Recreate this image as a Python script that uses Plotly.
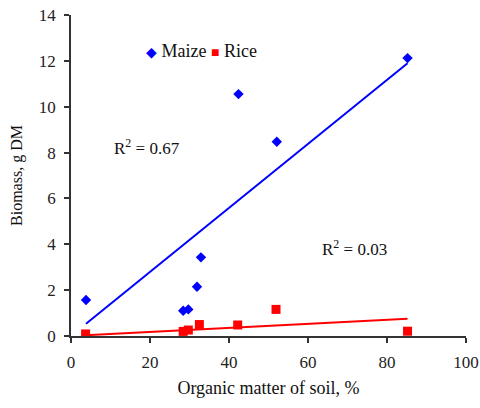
import numpy as np
import plotly.graph_objects as go

# Organic matter of soil (%) and biomass (g DM) per crop
maize_om = [3.8, 28.4, 29.7, 31.9, 32.9, 42.4, 52.1, 85.2]
maize_biomass = [1.57, 1.10, 1.16, 2.15, 3.43, 10.55, 8.47, 12.12]

rice_om = [3.7, 28.4, 29.7, 32.5, 42.2, 51.9, 85.2]
rice_biomass = [0.09, 0.20, 0.26, 0.50, 0.48, 1.16, 0.21]

r2_maize = "0.67"
r2_rice = "0.03"

x_ticks = [0, 20, 40, 60, 80, 100]
y_ticks = [0, 2, 4, 6, 8, 10, 12, 14]

BLUE = "#0000FF"
RED = "#FF0000"
SERIF = "Liberation Serif"


def origin_fit(x, y):
    """Least-squares line forced through the origin, spanning the data range."""
    x = np.asarray(x, float)
    y = np.asarray(y, float)
    slope = (x * y).sum() / (x * x).sum()
    xs = np.array([x.min(), x.max()])
    return xs, slope * xs


fig = go.Figure()

mx, my = origin_fit(maize_om, maize_biomass)
rx, ry = origin_fit(rice_om, rice_biomass)

fig.add_trace(go.Scatter(x=mx, y=my, mode="lines", line=dict(color=BLUE, width=2),
                         showlegend=False, hoverinfo="skip"))
fig.add_trace(go.Scatter(x=rx, y=ry, mode="lines", line=dict(color=RED, width=2),
                         showlegend=False, hoverinfo="skip"))

fig.add_trace(go.Scatter(x=maize_om, y=maize_biomass, mode="markers", name="Maize",
                         marker=dict(symbol="diamond", size=8, color=BLUE),
                         showlegend=False))
fig.add_trace(go.Scatter(x=rice_om, y=rice_biomass, mode="markers", name="Rice",
                         marker=dict(symbol="square", size=9, color=RED),
                         showlegend=False))

# Key for the two series
fig.add_annotation(
    xref="paper", yref="paper", x=(144 - 71) / 394, y=(336 - 51) / 321,
    xanchor="left", yanchor="middle", showarrow=False,
    text=(f"<span style='color:{BLUE};font-size:14px'>◆</span> Maize "
          f"<span style='color:{RED};font-size:14px'>■</span> Rice"),
    font=dict(family=SERIF, size=18, color="#111"),
)

# Coefficients of determination
fig.add_annotation(x=10.3, y=8.24, xanchor="left", yanchor="middle", showarrow=False,
                   text=f"R<sup>2</sup> = {r2_maize}",
                   font=dict(family=SERIF, size=17, color="#111"))
fig.add_annotation(x=63.0, y=3.84, xanchor="left", yanchor="middle", showarrow=False,
                   text=f"R<sup>2</sup> = {r2_rice}",
                   font=dict(family=SERIF, size=17, color="#111"))

axis_common = dict(
    showgrid=False, zeroline=False, showline=True, linecolor="#333", linewidth=1.5,
    ticks="outside", ticklen=5, tickcolor="#333", tickwidth=1.5,
    tickfont=dict(family=SERIF, size=17, color="#222"),
    automargin=False,
)

fig.update_xaxes(range=[0, 100], tickvals=x_ticks, ticklabelstandoff=5,
                 title=dict(text="Organic matter of soil, %",
                            font=dict(family=SERIF, size=18, color="#111"), standoff=10),
                 **axis_common)
fig.update_yaxes(range=[0, 14], tickvals=y_ticks, ticklabelstandoff=5,
                 title=dict(text="Biomass, g DM",
                            font=dict(family=SERIF, size=16, color="#111"), standoff=12),
                 **axis_common)

fig.update_layout(
    width=480, height=408,
    margin=dict(l=71, r=14, t=15, b=72),
    paper_bgcolor="white", plot_bgcolor="white",
    font=dict(family=SERIF, size=17, color="#222"),
    showlegend=False,
)

fig.write_html("out.html")
